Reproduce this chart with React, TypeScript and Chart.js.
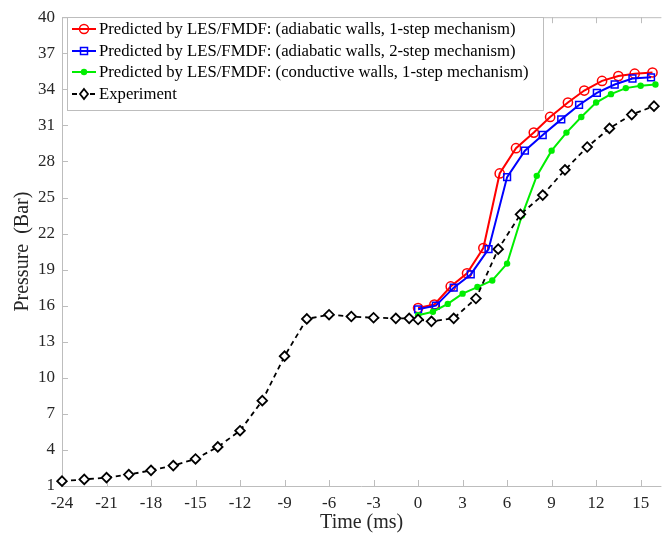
import React, { useEffect, useRef } from 'react';
import { Chart, registerables } from 'chart.js';

Chart.register(...registerables);

// ---- data ----
const expTime = [-24, -22.5, -21, -19.5, -18, -16.5, -15, -13.5, -12, -10.5, -9, -7.5, -6, -4.5, -3, -1.5, -0.6, 0, 0.9, 2.4, 3.9, 5.4, 6.9, 8.4, 9.9, 11.4, 12.9, 14.4, 15.9];
const expP = [1.4, 1.55, 1.7, 1.95, 2.3, 2.7, 3.25, 4.25, 5.6, 8.1, 11.8, 14.9, 15.25, 15.1, 15.0, 14.95, 14.95, 14.85, 14.7, 14.95, 16.6, 20.7, 23.6, 25.2, 27.3, 29.2, 30.75, 31.9, 32.6];

const adi1Time = [0, 1.1, 2.2, 3.3, 4.4, 5.5, 6.6, 7.8, 8.9, 10.1, 11.2, 12.4, 13.5, 14.6, 15.8];
const adi1P = [15.8, 16.1, 17.6, 18.7, 20.8, 27.0, 29.1, 30.4, 31.7, 32.9, 33.9, 34.7, 35.1, 35.3, 35.4];

const adi2Time = [0, 1.2, 2.4, 3.55, 4.75, 6.0, 7.2, 8.4, 9.65, 10.85, 12.05, 13.25, 14.45, 15.7];
const adi2P = [15.7, 16.0, 17.5, 18.6, 20.7, 26.7, 28.9, 30.2, 31.5, 32.7, 33.7, 34.4, 34.9, 35.0];

const condTime = [0, 1, 2, 3, 4, 5, 6, 7, 8, 9, 10, 11, 12, 13, 14, 15, 16];
const condP = [15.2, 15.5, 16.15, 17.0, 17.55, 18.1, 19.5, 23.5, 26.8, 28.9, 30.4, 31.7, 32.9, 33.6, 34.1, 34.3, 34.4];

const xTicks = [-24, -21, -18, -15, -12, -9, -6, -3, 0, 3, 6, 9, 12, 15];
const yTicks = [1, 4, 7, 10, 13, 16, 19, 22, 25, 28, 31, 34, 37, 40];

const legendLabels = [
  'Predicted by LES/FMDF: (adiabatic walls, 1-step mechanism)',
  'Predicted by LES/FMDF: (adiabatic walls, 2-step mechanism)',
  'Predicted by LES/FMDF: (conductive walls, 1-step mechanism)',
  'Experiment',
];
const xTitle = 'Time (ms)';
const yTitle = 'Pressure  (Bar)';

// ---- styles ----
const FONT = '"Liberation Serif", "Times New Roman", serif';
const AXIS = '#bdbdbd';
const TEXT = '#262626';
const RED = '#ff0000';
const BLUE = '#0000ff';
const GREEN = '#00ee00';
const BLACK = '#000000';

const pts = (xs: number[], ys: number[]) => xs.map((x, i) => ({ x, y: ys[i] }));

function drawMarker(ctx: CanvasRenderingContext2D, kind: string, x: number, y: number, color: string) {
  ctx.save();
  ctx.strokeStyle = color;
  ctx.fillStyle = color;
  ctx.lineWidth = 1.5;
  ctx.setLineDash([]);
  ctx.beginPath();
  if (kind === 'circle') {
    ctx.arc(x, y, 4.5, 0, Math.PI * 2);
    ctx.stroke();
  } else if (kind === 'rect') {
    ctx.rect(x - 3.5, y - 3.5, 7, 7);
    ctx.stroke();
  } else if (kind === 'dot') {
    ctx.arc(x, y, 3.2, 0, Math.PI * 2);
    ctx.fill();
  } else {
    ctx.moveTo(x, y - 5);
    ctx.lineTo(x + 4, y);
    ctx.lineTo(x, y + 5);
    ctx.lineTo(x - 4, y);
    ctx.closePath();
    ctx.fillStyle = '#fff';
    ctx.fill();
    ctx.lineWidth = 1.8;
    ctx.stroke();
  }
  ctx.restore();
}

export default function App() {
  const ref = useRef<HTMLCanvasElement>(null);

  useEffect(() => {
    document.body.style.margin = '0';
    const canvas = ref.current!;

    const framePlugin = {
      id: 'frame',
      beforeDatasetsDraw(chart: any) {
        const { ctx, chartArea } = chart;
        const { left, right, top, bottom } = chartArea;
        const xs = chart.scales.x;
        const ys = chart.scales.y;
        ctx.save();
        ctx.strokeStyle = AXIS;
        ctx.lineWidth = 1;
        ctx.beginPath();
        ctx.moveTo(left + 0.5, top + 0.5);
        ctx.lineTo(left + 0.5, bottom + 0.5);
        ctx.moveTo(left, bottom + 0.5);
        ctx.lineTo(right, bottom + 0.5);
        ctx.moveTo(left, top + 0.5);
        ctx.lineTo(right, top + 0.5);
        const tl = 6;
        xTicks.forEach((v) => {
          const px = Math.round(xs.getPixelForValue(v)) + 0.5;
          ctx.moveTo(px, bottom);
          ctx.lineTo(px, bottom - tl);
          ctx.moveTo(px, top);
          ctx.lineTo(px, top + tl);
        });
        yTicks.forEach((v) => {
          const py = Math.round(ys.getPixelForValue(v)) + 0.5;
          ctx.moveTo(left, py);
          ctx.lineTo(left + tl, py);
        });
        ctx.stroke();
        ctx.restore();
      },
    };

    const legendPlugin = {
      id: 'boxLegend',
      afterDraw(chart: any) {
        const { ctx } = chart;
        const bx = 67.5, by = 17.5, bw = 476, bh = 93;
        ctx.save();
        ctx.fillStyle = '#ffffff';
        ctx.fillRect(bx, by, bw, bh);
        ctx.strokeStyle = AXIS;
        ctx.lineWidth = 1;
        ctx.strokeRect(bx, by, bw, bh);
        const kinds = ['circle', 'rect', 'dot', 'diamond'];
        const colors = [RED, BLUE, GREEN, BLACK];
        const rowY = [29, 51, 72, 94];
        ctx.font = `16.7px ${FONT}`;
        ctx.textBaseline = 'middle';
        ctx.textAlign = 'left';
        legendLabels.forEach((lab, i) => {
          const y = rowY[i];
          ctx.strokeStyle = colors[i];
          ctx.lineWidth = 2;
          ctx.setLineDash(i === 3 ? [5, 4] : []);
          ctx.beginPath();
          ctx.moveTo(72, y);
          ctx.lineTo(96, y);
          ctx.stroke();
          ctx.setLineDash([]);
          drawMarker(ctx, kinds[i], 84, y, colors[i]);
          ctx.fillStyle = '#000';
          ctx.fillText(lab, 99, y + 1);
        });
        ctx.restore();
      },
    };

    const chart = new Chart(canvas, {
      type: 'line',
      data: {
        datasets: [
          {
            label: legendLabels[0],
            data: pts(adi1Time, adi1P),
            borderColor: RED,
            backgroundColor: 'rgba(0,0,0,0)',
            borderWidth: 2,
            pointStyle: 'circle',
            pointRadius: 4.6,
            pointBorderWidth: 1.5,
            pointBorderColor: RED,
            pointBackgroundColor: 'rgba(0,0,0,0)',
            order: 4,
          },
          {
            label: legendLabels[1],
            data: pts(adi2Time, adi2P),
            borderColor: BLUE,
            backgroundColor: 'rgba(0,0,0,0)',
            borderWidth: 2,
            pointStyle: 'rect',
            pointRadius: 4.8,
            pointBorderWidth: 1.5,
            pointBorderColor: BLUE,
            pointBackgroundColor: 'rgba(0,0,0,0)',
            order: 3,
          },
          {
            label: legendLabels[2],
            data: pts(condTime, condP),
            borderColor: GREEN,
            backgroundColor: GREEN,
            borderWidth: 2,
            pointStyle: 'circle',
            pointRadius: 3.2,
            pointBorderWidth: 0,
            pointBackgroundColor: GREEN,
            order: 2,
          },
          {
            label: legendLabels[3],
            data: pts(expTime, expP),
            borderColor: BLACK,
            backgroundColor: 'rgba(0,0,0,0)',
            borderWidth: 1.8,
            borderDash: [5, 4],
            pointStyle: 'rectRot',
            pointRadius: 4.8,
            pointBorderWidth: 1.8,
            pointBorderColor: BLACK,
            pointBackgroundColor: '#ffffff',
            order: 1,
          },
        ],
      },
      options: {
        responsive: false,
        animation: false,
        clip: false as any,
        layout: { padding: { top: 13, right: 0, left: 0, bottom: 0 } },
        plugins: {
          legend: { display: false },
          tooltip: { enabled: false },
        },
        elements: { line: { tension: 0 } },
        scales: {
          x: {
            type: 'linear',
            min: -24,
            max: 16.4,
            ticks: {
              stepSize: 3,
              color: TEXT,
              font: { family: FONT, size: 17 },
              padding: 7,
              maxRotation: 0,
              autoSkip: false,
            },
            afterBuildTicks: (scale: any) => {
              scale.ticks = xTicks.map((v) => ({ value: v }));
            },
            afterFit: (scale: any) => {
              scale.height = 54;
            },
            grid: { display: false, drawTicks: false },
            border: { display: false },
            title: {
              display: true,
              text: xTitle,
              color: TEXT,
              font: { family: FONT, size: 20 },
              padding: { top: 0, bottom: 5 },
            },
          },
          y: {
            type: 'linear',
            min: 1,
            max: 40,
            ticks: {
              stepSize: 3,
              color: TEXT,
              font: { family: FONT, size: 17 },
              padding: 7,
              autoSkip: false,
            },
            afterBuildTicks: (scale: any) => {
              scale.ticks = yTicks.map((v) => ({ value: v }));
            },
            afterFit: (scale: any) => {
              scale.width = 62;
            },
            grid: { display: false, drawTicks: false },
            border: { display: false },
            title: {
              display: true,
              text: yTitle,
              color: TEXT,
              font: { family: FONT, size: 20 },
              padding: { top: 11, bottom: 0 },
            },
          },
        },
      },
      plugins: [framePlugin, legendPlugin],
    });

    return () => chart.destroy();
  }, []);

  return (
    <div style={{ width: 668, height: 540 }}>
      <canvas ref={ref} width={668} height={540} style={{ display: 'block' }} />
    </div>
  );
}
